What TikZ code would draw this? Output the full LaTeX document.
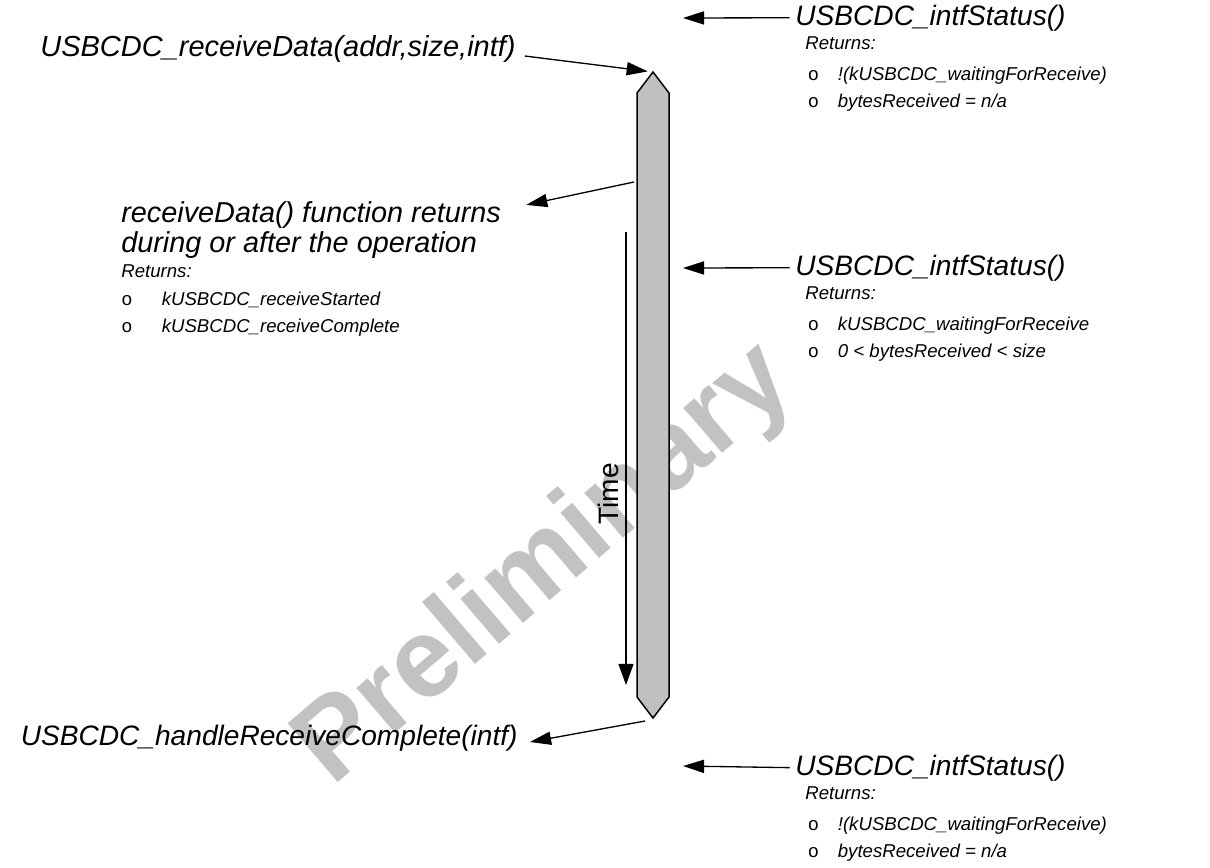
\documentclass[tikz,border=0pt]{standalone}
\usepackage{fontspec}
\setmainfont{Liberation Sans}
\newfontfamily\bulletfont{Liberation Mono}
\usetikzlibrary{arrows.meta}
\definecolor{barfill}{RGB}{192,192,192}
\definecolor{markgray}{RGB}{194,194,194}
\newcommand{\itm}[2]{\makebox[#1][l]{\bulletfont\upshape o}#2}

\begin{document}
\begin{tikzpicture}[x=0.02cm,y=-0.02cm,
    call/.style={inner sep=0pt,font=\fontsize{16}{17}\selectfont\itshape,align=left},
    detail/.style={inner sep=0pt,font=\fontsize{10.6}{15.3}\selectfont\itshape,align=left},
    flow/.style={-{Triangle[length=12pt,width=7.5pt]},line width=0.75pt},
    timeline/.style={draw,line width=0.85pt,fill=barfill,line join=miter},
    watermark/.style={inner sep=0pt,text=markgray,font=\fontsize{64}{64}\selectfont\bfseries}
]
    \useasboundingbox (0,0) rectangle (1210,867);
    \node[watermark,rotate=40.5] (prelim) at (546,566) {Preliminary};

    % the operation bar
    \coordinate (bartop) at (653,72);
    \coordinate (barbot) at (653,718);
    \draw[timeline] (bartop) -- (669,93) -- (669,697) -- (barbot)
        -- (637,697) -- (637,93) -- cycle;
    \coordinate (tstart) at (626,232);
    \coordinate (tend) at (626,685);
    \draw[flow,-{Triangle[length=12pt,width=8.5pt]}] (tstart) -- (tend);
    \node[rotate=90,inner sep=0pt,font=\fontsize{16}{17}\selectfont] (time) at (608,494) {Time};

    % left side
    \node[call,anchor=base west,font=\fontsize{16.5}{17}\selectfont\itshape] (recv) at (40,56) {USBCDC\_receiveData(addr,size,intf)};
    \draw[flow,shorten >=3pt] ([xshift=5pt]recv.base east) -- (bartop);
    \coordinate (retpt) at (634,182);
    \node[call,anchor=base west,font=\fontsize{16.4}{17}\selectfont\itshape] (retn) at (121,252)
        {receiveData() function returns\\during or after the operation};
    \node[detail,anchor=base west] (retlist) at (121,332)
        {Returns:\\[0.6pt]\itm{23pt}{kUSBCDC\_receiveStarted}\\\itm{23pt}{kUSBCDC\_receiveComplete}};
    \draw[flow] (retpt) -- ([shift={(25,4)}]retn.north east);
    \coordinate (finpt) at (645,721);
    \node[call,anchor=base east] (done) at (518,745) {USBCDC\_handleReceiveComplete(intf)};
    \draw[flow] (finpt) -- ([shift={(12,-3)}]done.base east);

    % right side
    \coordinate (q1) at (683,18);
    \node[call,anchor=base west] (stat1) at (795,25) {USBCDC\_intfStatus()};
    \node[detail,anchor=base west] (ret1) at (805,107)
        {Returns:\\[2.2pt]\hspace*{1.5pt}\itm{17pt}{!(kUSBCDC\_waitingForReceive)}\\\hspace*{1.5pt}\itm{17pt}{bytesReceived = n/a}};
    \draw[flow,shorten <=3pt] (stat1.west) -- (q1);

    \coordinate (q2) at (683,268);
    \node[call,anchor=base west] (stat2) at (795,275) {USBCDC\_intfStatus()};
    \node[detail,anchor=base west] (ret2) at (805,357)
        {Returns:\\[2.2pt]\hspace*{1.5pt}\itm{17pt}{kUSBCDC\_waitingForReceive}\\\hspace*{1.5pt}\itm{17pt}{0 < bytesReceived < size}};
    \draw[flow,shorten <=3pt] (stat2.west) -- (q2);

    \coordinate (q3) at (683,766);
    \node[call,anchor=base west] (stat3) at (795,775) {USBCDC\_intfStatus()};
    \node[detail,anchor=base west] (ret3) at (805,857)
        {Returns:\\[2.2pt]\hspace*{1.5pt}\itm{17pt}{!(kUSBCDC\_waitingForReceive)}\\\hspace*{1.5pt}\itm{17pt}{bytesReceived = n/a}};
    \draw[flow,shorten <=3pt] (stat3.west) -- (q3);
\end{tikzpicture}
\end{document}
